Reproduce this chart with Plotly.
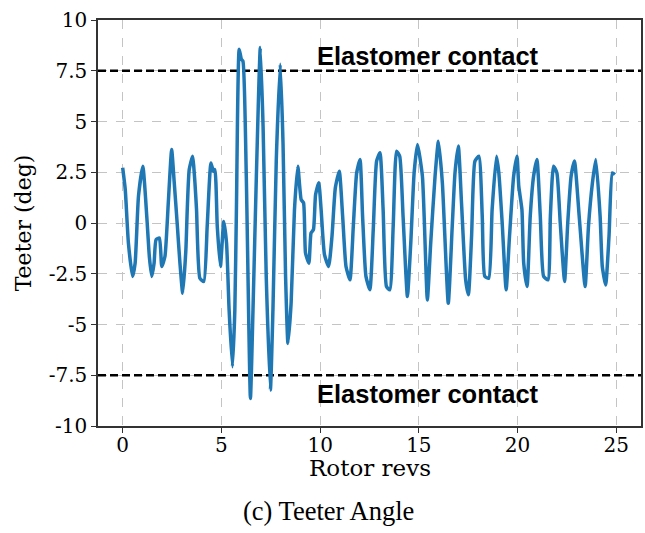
import plotly.graph_objects as go

# Teeter angle trace, rotor revolutions vs degrees
revs = [
    0.00, 0.13, 0.29, 0.50, 0.63, 0.80, 1.02, 1.22, 1.35, 1.47, 1.59, 1.69, 1.86, 1.98,
    2.14, 2.31, 2.48, 2.60, 2.77, 2.90, 3.04, 3.20, 3.27, 3.37, 3.54, 3.66, 3.74, 3.91,
    4.11, 4.28, 4.47, 4.59, 4.67, 4.79, 4.95, 5.12, 5.26, 5.39, 5.56, 5.68, 5.76, 5.90,
    6.01, 6.09, 6.26, 6.47, 6.60, 6.77, 6.97, 7.11, 7.27, 7.48, 7.61, 7.78, 7.98, 8.12,
    8.25, 8.37, 8.53, 8.70, 8.87, 9.04, 9.16, 9.26, 9.43, 9.54, 9.66, 9.77, 9.93, 10.05,
    10.22, 10.43, 10.60, 10.77, 10.97, 11.14, 11.31, 11.51, 11.68, 11.85, 12.02, 12.15,
    12.32, 12.52, 12.69, 12.86, 13.03, 13.19, 13.36, 13.53, 13.70, 13.87, 14.03, 14.20,
    14.42, 14.59, 14.76, 14.93, 15.18, 15.43, 15.60, 15.82, 15.99, 16.19, 16.49, 16.69,
    16.83, 17.00, 17.16, 17.37, 17.51, 17.67, 17.84, 18.04, 18.21, 18.34, 18.54, 18.71,
    18.93, 19.05, 19.22, 19.42, 19.59, 19.80, 19.97, 20.06, 20.22, 20.31, 20.48, 20.64,
    20.81, 20.98, 21.15, 21.32, 21.54, 21.66, 21.82, 21.99, 22.16, 22.38, 22.54, 22.71,
    22.88, 23.12, 23.42, 23.59, 23.79, 23.96, 24.18, 24.29, 24.46, 24.63, 24.80, 24.93,
]
teeter_deg = [
    2.72, 1.65, -0.99, -2.63, -1.98, 1.32, 2.80, 0.33, -1.65, -2.63, -1.98, -0.82, -0.74, -2.14,
    -1.65, 0.99, 3.62, 2.14, -0.16, -1.98, -3.46, -1.32, 0.66, 2.63, 3.29, 1.98, 0.66, -2.72,
    -2.88, -0.16, 2.96, 2.55, 2.63, -0.16, -2.14, 0.08, -0.99, -4.28, -7.08, -4.28, 0.66, 8.56,
    8.07, 7.98, 2.30, -8.64, -4.28, 2.30, 8.64, 4.77, -2.63, -8.23, -4.28, 3.13, 7.82, 3.95,
    -2.63, -5.93, -3.95, 0.66, 2.80, 1.15, 0.99, -1.48, -1.98, -0.49, -0.33, 1.40, 1.98, 0.66,
    -1.56, -2.14, -0.66, 1.73, 2.55, 0.33, -2.14, -2.80, -0.16, 2.47, 3.13, 0.33,
    -2.63, -3.29, -0.33, 3.05, 3.46, 0.66, -3.13, -3.29, -0.16, 3.54, 3.29, 0.33,
    -3.62, -0.99, 2.47, 3.87, 2.30, -3.79, -0.99, 2.30, 4.03, 1.98, -3.95, -0.16,
    2.47, 3.79, 0.99, -2.80, -3.54, -0.66, 3.05, 3.29, 0.33, -2.63, -2.72, 0.66,
    3.29, 2.47, 0.00, -3.29, -0.66, 2.30, 3.29, 1.81, 0.66, -1.98, -3.13, 0.33,
    2.30, 3.13, 0.33, -2.63, -2.80, 0.33, 2.80, 2.47, 0.00, -2.88, 0.00, 2.30,
    3.05, 0.33, -3.13, -0.16, 1.98, 3.13, 0.33, -2.14, -3.05, -0.66, 2.47, 2.39,
]

contact_limit = 7.5
contact_label = "Elastomer contact"
x_ticks = [0, 5, 10, 15, 20, 25]
y_ticks = [-10, -7.5, -5, -2.5, 0, 2.5, 5, 7.5, 10]
y_tick_text = ["-10", "-7.5", "-5", "-2.5", "0", "2.5", "5", "7.5", "10"]

x_range = [-1.25, 26.25]
y_range = [-10, 10]

serif = "DejaVu Serif"

fig = go.Figure()

# contact limits as dashed horizontal lines
for lvl in (contact_limit, -contact_limit):
    fig.add_trace(go.Scatter(
        x=x_range, y=[lvl, lvl], mode="lines",
        line=dict(color="black", width=2.5, dash="8px,4px"),
        hoverinfo="skip", showlegend=False,
    ))

fig.add_trace(go.Scatter(
    x=revs, y=teeter_deg, mode="lines",
    line=dict(color="#1f77b4", width=3.5, shape="spline", smoothing=0.5),
    showlegend=False,
))

for lvl, yv in ((contact_limit, 8.22), (-contact_limit, -8.4)):
    fig.add_annotation(
        x=15.46, y=yv, xref="x", yref="y", text=contact_label, showarrow=False,
        font=dict(family="Liberation Sans", size=25.5, color="black", weight="bold"),
        xanchor="center", yanchor="middle",
    )

# x-axis title, placed just under the tick labels
fig.add_annotation(
    x=0.5, y=-0.103, xref="paper", yref="paper", text="Rotor revs",
    showarrow=False, font=dict(family=serif, size=23, color="black"),
    xanchor="center", yanchor="middle",
)

fig.add_annotation(
    x=0.424, y=-0.21, xref="paper", yref="paper", text="(c) Teeter Angle",
    showarrow=False, font=dict(family="Liberation Serif", size=26.5, color="black"),
    xanchor="center", yanchor="middle",
)

axis_common = dict(
    showline=True, mirror=True, linecolor="#333333", linewidth=1.5,
    ticks="outside", ticklen=5, tickwidth=1.2, tickcolor="#333333",
    showgrid=True, gridcolor="#c4c4c4", griddash="dash", gridwidth=1,
    zeroline=False, tickfont=dict(family=serif, size=20, color="black"),
)

fig.update_xaxes(range=x_range, tickvals=x_ticks, ticklabelstandoff=-5, **axis_common)
fig.update_yaxes(
    range=y_range, tickvals=y_ticks, ticktext=y_tick_text, **axis_common,
    title=dict(text="Teeter (deg)", font=dict(family=serif, size=22, color="black"), standoff=11),
)

fig.update_layout(
    width=645, height=533,
    margin=dict(l=97.5, r=2, t=20, b=107),
    plot_bgcolor="white", paper_bgcolor="white",
)

fig.write_html("out.html")
